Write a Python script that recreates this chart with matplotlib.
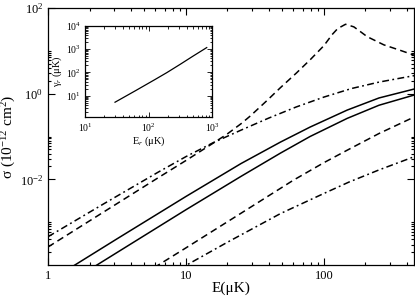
import matplotlib
matplotlib.use("Agg")
import matplotlib.pyplot as plt
from matplotlib.ticker import FixedLocator, NullFormatter, LogLocator

plt.rcParams['font.family'] = ['Liberation Serif', 'DejaVu Serif']
plt.rcParams['mathtext.fontset'] = 'custom'
plt.rcParams['mathtext.rm'] = 'Liberation Serif'
plt.rcParams['mathtext.it'] = 'Liberation Serif:italic'

# ---- main panel data (E in uK, sigma in 1e-12 cm^2) ----
e_s1 = [1, 3.16, 10, 25.1, 48.4, 79.4, 147.6, 251, 450]
sig_s1 = [4.07e-5, 4.07e-4, 3.98e-3, 0.0234, 0.0740, 0.166, 0.414, 0.794, 1.28]

e_s2 = [1, 3.16, 10, 25.1, 48.4, 79.4, 147.6, 251, 450]
sig_s2 = [1.95e-5, 1.95e-4, 1.95e-3, 0.01175, 0.0409, 0.100, 0.265, 0.537, 0.927]

e_d1 = [1, 2.512, 6.31, 10, 15.85, 19.95, 25.12, 29.3, 38.7, 48.4, 63.1, 80.0,
        100, 114.8, 125.9, 143.5, 164.8, 182, 206, 272, 360, 450]
sig_d1 = [2.63e-4, 1.70e-3, 0.01096, 0.0275, 0.0708, 0.1148, 0.1995, 0.302, 0.692,
          1.38, 3.02, 6.31, 13.2, 24.0, 33.1, 41.7, 36.3, 28.8, 21.4, 13.8, 10.2, 7.94]

e_d2 = [5.01, 10, 25.1, 60.1, 100, 147.6, 251, 450]
sig_d2 = [6.3e-5, 2.51e-4, 1.62e-3, 9.55e-3, 0.0245, 0.0479, 0.1175, 0.284]

e_dd1 = [1, 2.51, 6.31, 10, 15.85, 25.1, 39.8, 63.1, 100, 158.5, 251, 354.8, 450]
sig_dd1 = [4.57e-4, 2.63e-3, 0.01479, 0.0339, 0.0724, 0.141, 0.269, 0.490, 0.832,
           1.318, 1.862, 2.29, 2.63]

e_dd2 = [8.91, 19.95, 48.4, 100, 151.7, 251, 450]
sig_dd2 = [7.94e-5, 3.39e-4, 1.585e-3, 4.68e-3, 8.61e-3, 0.0166, 0.0336]

# ---- inset data ----
e_r = [29.7, 63.1, 125.9, 194, 316, 501, 826]
gamma_r = [5.2, 16.6, 49.0, 97.7, 224, 501, 1175]

x_ticks = [1, 10, 100]
x_ticklabels = ['1', '10', '100']
y_ticks = [1e-2, 1, 1e2]
y_ticklabels = [r'$10^{-2}$', r'$10^{0}$', r'$10^{2}$']

W, H = 415, 296
fig = plt.figure(figsize=(W / 100, H / 100), dpi=100)
ax = fig.add_axes([48 / W, 1 - 265 / H, 366 / W, 257 / H])

lw = 1.1
ax.plot(e_s1, sig_s1, color='black', lw=lw)
ax.plot(e_s2, sig_s2, color='black', lw=lw)
ax.plot(e_d1, sig_d1, color='black', lw=lw, dashes=(4.5, 2.8))
ax.plot(e_d2, sig_d2, color='black', lw=lw, dashes=(4.5, 2.8))
ax.plot(e_dd1, sig_dd1, color='black', lw=lw, dashes=(4.5, 2.2, 1.2, 2.2))
ax.plot(e_dd2, sig_dd2, color='black', lw=lw, dashes=(4.5, 2.2, 1.2, 2.2))

ax.set_xscale('log')
ax.set_yscale('log')
ax.set_xlim(1, 450)
ax.set_ylim(1e-4, 1e2)

ax.set_xticks(x_ticks, labels=x_ticklabels)
ax.xaxis.set_minor_locator(LogLocator(base=10, subs=range(2, 10)))
ax.xaxis.set_minor_formatter(NullFormatter())
ax.set_yticks(y_ticks, labels=y_ticklabels)
yminor = []
for ex in (-4, -2, 0):
    yminor += [k * 10.0 ** ex for k in range(2, 10)]
    yminor.append(10.0 ** (ex + 1))
ax.yaxis.set_minor_locator(FixedLocator(yminor))
ax.yaxis.set_minor_formatter(NullFormatter())

ax.tick_params(which='both', direction='in', top=True, right=True, width=0.8)
ax.tick_params(which='major', length=5, labelsize=9, pad=3.5)
ax.tick_params(which='minor', length=2.5)
for s in ax.spines.values():
    s.set_linewidth(0.9)

ax.set_xlabel('E(μK)', fontsize=11, labelpad=0)
ax.set_ylabel(r'σ (10$^{-12}$ cm$^{2}$)', fontsize=11, labelpad=1)

# ---- inset ----
ins = fig.add_axes([85 / W, 1 - 117 / H, 127 / W, 91 / H])
ins.plot(e_r, gamma_r, color='black', lw=0.9)
ins.set_xscale('log')
ins.set_yscale('log')
ins.set_xlim(10, 1000)
ins.set_ylim(1.2, 1e4)
ins.set_xticks([10, 100, 1000], labels=[r'$10^{1}$', r'$10^{2}$', r'$10^{3}$'])
ins.set_yticks([10, 100, 1000, 10000],
               labels=[r'$10^{1}$', r'$10^{2}$', r'$10^{3}$', r'$10^{4}$'])
ins.xaxis.set_minor_locator(LogLocator(base=10, subs=range(2, 10)))
ins.yaxis.set_minor_locator(LogLocator(base=10, subs=range(2, 10)))
ins.xaxis.set_minor_formatter(NullFormatter())
ins.yaxis.set_minor_formatter(NullFormatter())
ins.tick_params(which='both', direction='in', top=True, right=True, width=0.6)
ins.tick_params(which='major', length=3.5, labelsize=7, pad=3)
ins.tick_params(which='minor', length=1.8)
for s in ins.spines.values():
    s.set_linewidth(0.9)
ins.set_xlabel(r'E$_{r}$ (μK)', fontsize=7.5, labelpad=1)
ins.set_ylabel(r'γ$_{r}$ (μK)', fontsize=7.5, labelpad=1)

fig.savefig('out.png', dpi=100)
